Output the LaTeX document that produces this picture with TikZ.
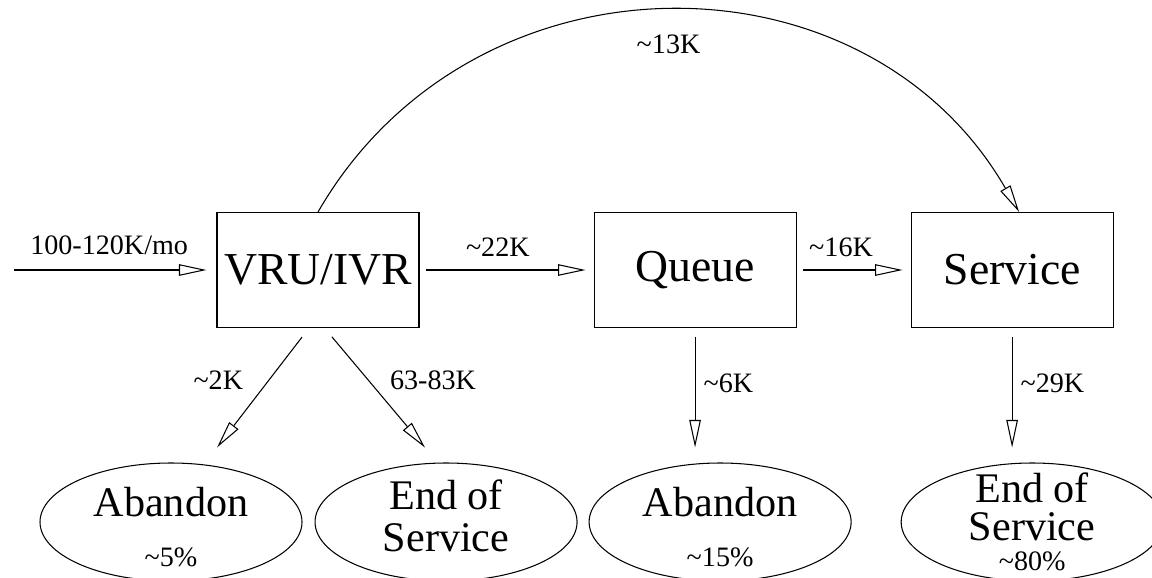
\documentclass[tikz,border=0pt]{standalone}
\usepackage{fontspec}
\setmainfont{Liberation Serif}
\usetikzlibrary{shapes.geometric, arrows.meta, positioning}
\newcommand{\pctlbl}[1]{{\fontsize{16pt}{24pt}\selectfont\textasciitilde#1\%}}

\begin{document}
\begin{tikzpicture}
    \tikzset{
        box/.style = {rectangle, draw, line width=0.6pt, minimum width=4.04cm, minimum height=2.3cm, inner sep=0pt, font=\fontsize{26pt}{30pt}\selectfont},
        exit/.style = {ellipse, draw, line width=0.6pt, minimum width=5.24cm, minimum height=2.36cm, inner xsep=0pt, inner ysep=-0.35cm, align=center, font=\fontsize{24pt}{24pt}\selectfont},
        lbl/.style = {inner sep=0pt, font=\fontsize{16pt}{19pt}\selectfont},
        flow/.style = {draw, line width=0.6pt, -{Triangle[open, length=0.55cm, width=0.23cm]}}
    }
    \useasboundingbox (0,0) rectangle (23.04,-11.54);
    \node[box] (vru) at (6.36,-5.40) {VRU/IVR};
    \node[box, right=3.48cm of vru] (queue) {Queue};
    \node[box, right=2.28cm of queue] (service) {Service};
    \coordinate (arrivals) at (0.28,-5.40);
    \node[exit] (abandonA) at (3.42,-10.44) {\rule{0pt}{0.78cm}Abandon\\[0.15cm]\pctlbl{5}};
    \node[exit, right=0.24cm of abandonA] (endA) {End of\\Service\rule[-0.24cm]{0pt}{0.24cm}};
    \node[exit, right=0.22cm of endA] (abandonB) {\rule{0pt}{0.78cm}Abandon\\[0.15cm]\pctlbl{15}};
    \node[exit, right=0.98cm of abandonB] (endB) {End of\\[-0.1cm]Service\\[-0.24cm]\pctlbl{80}};

    \path[flow, shorten >=0.2cm] (arrivals) -- node[lbl, pos=0.47, above=0.3cm] {100-120K/mo} (vru);
    \path[flow, shorten <=0.12cm, shorten >=0.16cm] (vru) -- node[lbl, pos=0.45, above=0.26cm] {\textasciitilde22K} (queue);
    \path[flow, shorten <=0.12cm, shorten >=0.16cm] (queue) -- node[lbl, pos=0.39, above=0.26cm] {\textasciitilde16K} (service);
    \path[flow] (vru.north) to[out=60, in=120, looseness=1.13] node[lbl, below=0.46cm] {\textasciitilde13K} ([xshift=0.14cm]service.north);
    \path[flow, shorten <=0.23cm, shorten >=0.38cm] ([xshift=-0.18cm]vru.south) -- node[lbl, pos=0.39, left=0.5cm] {\textasciitilde2K} ([xshift=0.69cm]abandonA.north);
    \path[flow, shorten <=0.23cm, shorten >=0.39cm] ([xshift=0.13cm]vru.south) -- node[lbl, pos=0.39, right=0.42cm] {63-83K} ([xshift=-0.17cm]endA.north);
    \path[flow, shorten <=0.18cm, shorten >=0.3cm] (queue.south) -- node[lbl, pos=0.41, right=0.16cm] {\textasciitilde6K} (queue.south |- abandonB.north);
    \path[flow, shorten <=0.18cm, shorten >=0.3cm] (service.south) -- node[lbl, pos=0.41, right=0.16cm] {\textasciitilde29K} (service.south |- endB.north);
\end{tikzpicture}
\end{document}
